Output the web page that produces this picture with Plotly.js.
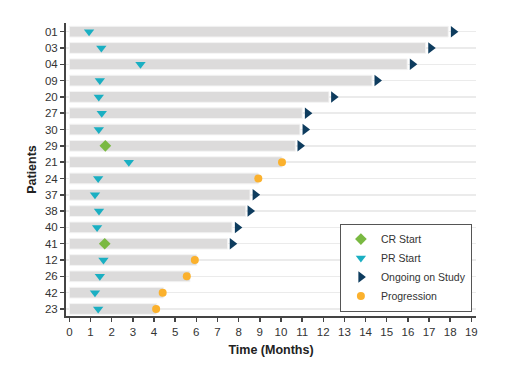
<!DOCTYPE html>
<html><head><meta charset="utf-8">
<script src="https://cdn.plot.ly/plotly-3.0.1.min.js"></script>
<style>html,body{margin:0;padding:0;background:#fff}</style>
</head><body><div id="chart" style="width:516px;height:366px"></div>
<script>
const patients = ["01","03","04","09","20","27","30","29","21","24","37","38","40","41","12","26","42","23"];
const duration = [17.91,16.84,15.97,14.31,12.27,11.01,10.90,10.68,10.05,8.93,8.54,8.34,7.69,7.48,6.02,5.70,4.44,4.13];
const crPatients = ["29","41"];
const crStart = [1.70,1.67];
const prPatients = ["01","03","04","09","20","27","30","21","24","37","38","40","12","26","42","23"];
const prStart = [0.93,1.51,3.36,1.44,1.39,1.53,1.39,2.81,1.36,1.21,1.40,1.31,1.61,1.44,1.21,1.36];
const ongoingPatients = ["01","03","04","09","20","27","30","29","37","38","40","41"];
const ongoingMark = [18.15,17.08,16.21,14.54,12.49,11.25,11.14,10.90,8.78,8.54,7.94,7.70];
const progPatients = ["21","24","12","26","42","23"];
const progression = [10.05,8.93,5.93,5.55,4.41,4.10];
const xTicks = [0,1,2,3,4,5,6,7,8,9,10,11,12,13,14,15,16,17,18,19];

const traces = [
  {type:'bar', orientation:'h', y:patients, x:duration, base:0, width:0.66,
   marker:{color:'#dcdbdb', line:{color:'#f4f4f4', width:1}}, showlegend:false, hoverinfo:'x+y'},
  {type:'scatter', mode:'markers', name:'CR Start', x:crStart, y:crPatients,
   marker:{symbol:'diamond', color:'#7ab942', size:9}},
  {type:'scatter', mode:'markers', name:'PR Start', x:prStart, y:prPatients,
   marker:{symbol:'triangle-down', color:'#1aafc2', size:9}},
  {type:'scatter', mode:'markers', name:'Ongoing on Study', x:ongoingMark, y:ongoingPatients,
   marker:{symbol:'triangle-right', color:'#0e3c5e', size:10}},
  {type:'scatter', mode:'markers', name:'Progression', x:progression, y:progPatients,
   marker:{symbol:'circle', color:'#fbb12d', size:8}}
];

const layout = {
  width:516, height:366,
  margin:{l:66, r:40, t:23, b:50},
  paper_bgcolor:'#fff', plot_bgcolor:'#fff',
  font:{family:'Liberation Sans, Arial, sans-serif', size:11, color:'#333'},
  xaxis:{range:[-0.16,19.22], tickvals:xTicks, ticktext:xTicks.map(String), showgrid:false, zeroline:false,
    automargin:false,
    showline:true, linecolor:'#444', linewidth:2, ticks:'outside', ticklen:4, tickcolor:'#444', tickwidth:1.5,
    tickfont:{size:11.5, color:'#333'},
    title:{text:'<b>Time (Months)</b>', font:{size:12.5, color:'#222'}, standoff:8}},
  yaxis:{type:'category', categoryorder:'array', categoryarray:patients, range:[17.43,-0.53],
    automargin:false,
    showgrid:true, gridcolor:'#ebebeb', gridwidth:1.5, zeroline:false,
    showline:true, linecolor:'#444', linewidth:2, ticks:'outside', ticklen:4, tickcolor:'#444', tickwidth:1.5,
    tickfont:{size:11.5, color:'#333'},
    title:{text:'<b>Patients</b>', font:{size:12.5, color:'#222'}, standoff:6}},
  legend:{x:0.99, y:0.015, xanchor:'right', yanchor:'bottom', bgcolor:'#fff', bordercolor:'#555', borderwidth:1,
    font:{size:10.5, color:'#333'}, tracegroupgap:0, itemwidth:30}
};
Plotly.newPlot('chart', traces, layout, {displayModeBar:false, staticPlot:true});
</script></body></html>
